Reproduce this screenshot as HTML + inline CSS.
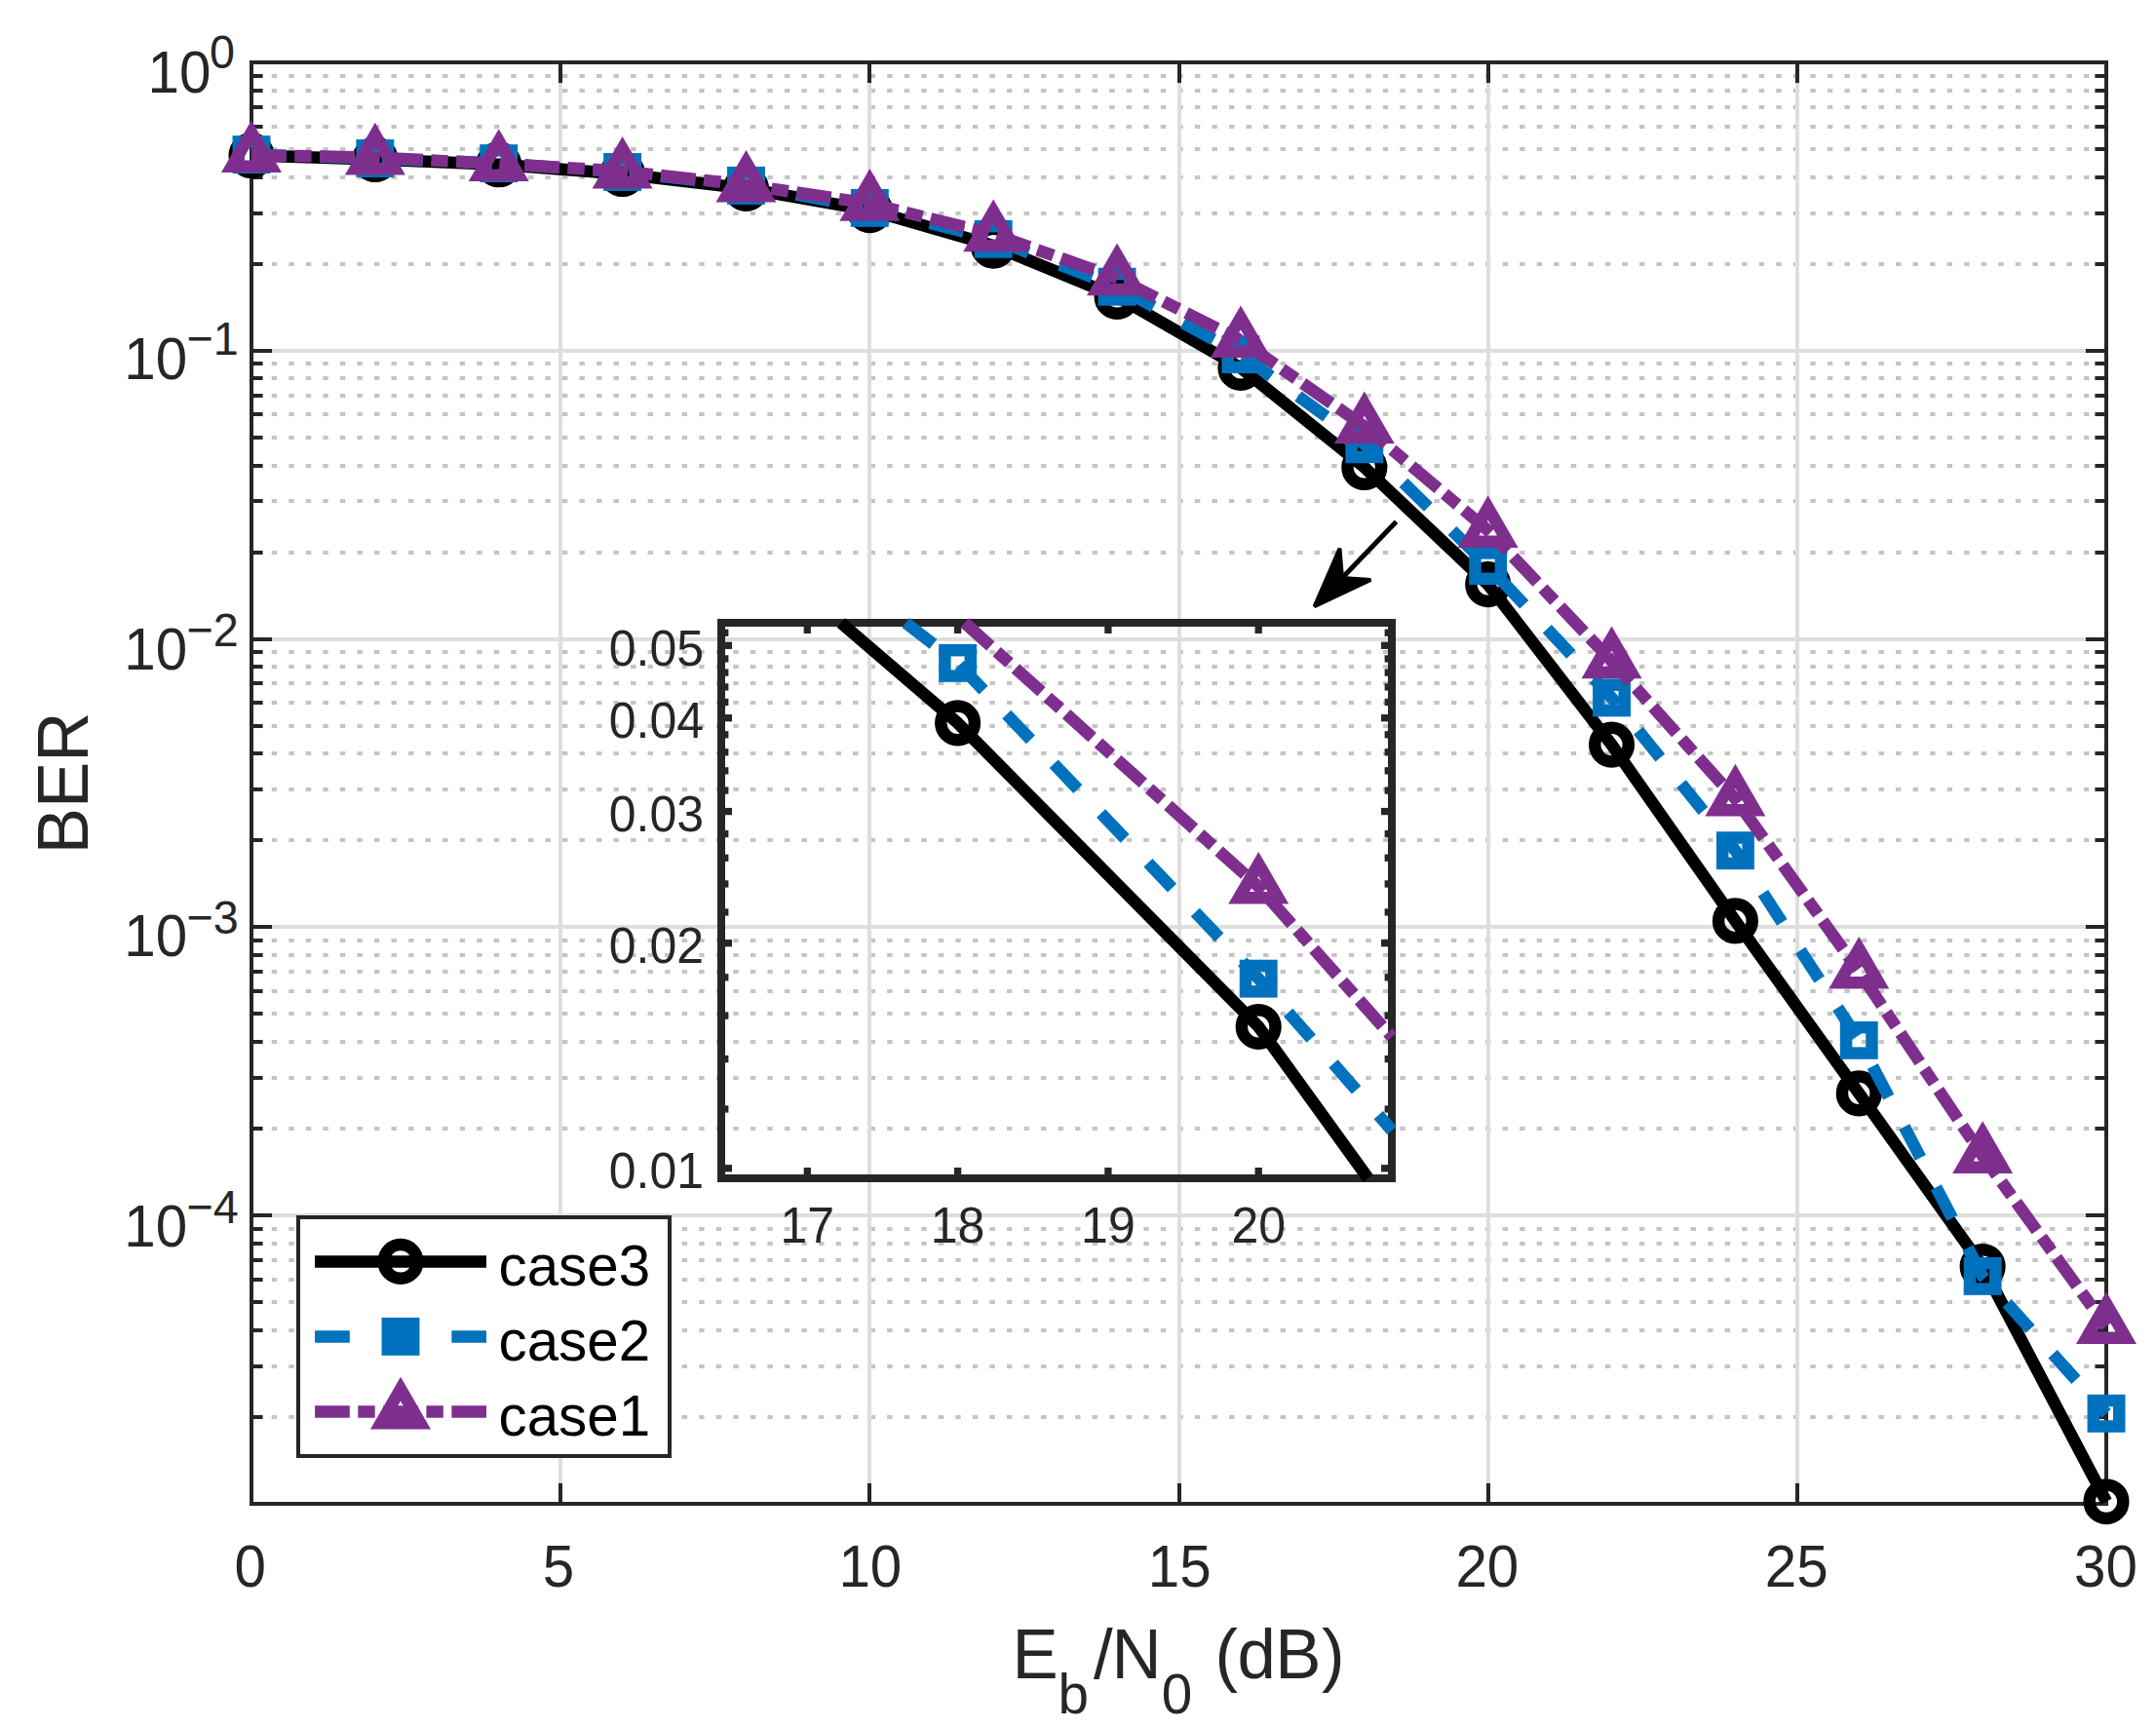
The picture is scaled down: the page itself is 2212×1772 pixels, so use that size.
<!DOCTYPE html>
<html lang="en"><head><meta charset="utf-8"><title>BER vs Eb/N0</title>
<style>html,body{margin:0;padding:0;background:#fff}svg{display:block}text{font-family:"Liberation Sans",sans-serif}</style>
</head><body>
<svg width="2212" height="1772" viewBox="0 0 2212 1772">
<rect width="2212" height="1772" fill="#fff"/>
<g id="grid">
<line x1="258.00" y1="271.00" x2="2161.00" y2="271.00" stroke="#c4c4c4" stroke-width="4" stroke-dasharray="5.4 12.14" stroke-dashoffset="14.34"/>
<line x1="258.00" y1="219.00" x2="2161.00" y2="219.00" stroke="#c4c4c4" stroke-width="4" stroke-dasharray="5.4 12.14" stroke-dashoffset="14.34"/>
<line x1="258.00" y1="182.00" x2="2161.00" y2="182.00" stroke="#c4c4c4" stroke-width="4" stroke-dasharray="5.4 12.14" stroke-dashoffset="14.34"/>
<line x1="258.00" y1="153.00" x2="2161.00" y2="153.00" stroke="#c4c4c4" stroke-width="4" stroke-dasharray="5.4 12.14" stroke-dashoffset="14.34"/>
<line x1="258.00" y1="130.00" x2="2161.00" y2="130.00" stroke="#c4c4c4" stroke-width="4" stroke-dasharray="5.4 12.14" stroke-dashoffset="14.34"/>
<line x1="258.00" y1="110.00" x2="2161.00" y2="110.00" stroke="#c4c4c4" stroke-width="4" stroke-dasharray="5.4 12.14" stroke-dashoffset="14.34"/>
<line x1="258.00" y1="93.00" x2="2161.00" y2="93.00" stroke="#c4c4c4" stroke-width="4" stroke-dasharray="5.4 12.14" stroke-dashoffset="14.34"/>
<line x1="258.00" y1="78.00" x2="2161.00" y2="78.00" stroke="#c4c4c4" stroke-width="4" stroke-dasharray="5.4 12.14" stroke-dashoffset="14.34"/>
<line x1="258.00" y1="567.00" x2="2161.00" y2="567.00" stroke="#c4c4c4" stroke-width="4" stroke-dasharray="5.4 12.14" stroke-dashoffset="14.34"/>
<line x1="258.00" y1="514.00" x2="2161.00" y2="514.00" stroke="#c4c4c4" stroke-width="4" stroke-dasharray="5.4 12.14" stroke-dashoffset="14.34"/>
<line x1="258.00" y1="478.00" x2="2161.00" y2="478.00" stroke="#c4c4c4" stroke-width="4" stroke-dasharray="5.4 12.14" stroke-dashoffset="14.34"/>
<line x1="258.00" y1="449.00" x2="2161.00" y2="449.00" stroke="#c4c4c4" stroke-width="4" stroke-dasharray="5.4 12.14" stroke-dashoffset="14.34"/>
<line x1="258.00" y1="425.00" x2="2161.00" y2="425.00" stroke="#c4c4c4" stroke-width="4" stroke-dasharray="5.4 12.14" stroke-dashoffset="14.34"/>
<line x1="258.00" y1="406.00" x2="2161.00" y2="406.00" stroke="#c4c4c4" stroke-width="4" stroke-dasharray="5.4 12.14" stroke-dashoffset="14.34"/>
<line x1="258.00" y1="388.00" x2="2161.00" y2="388.00" stroke="#c4c4c4" stroke-width="4" stroke-dasharray="5.4 12.14" stroke-dashoffset="14.34"/>
<line x1="258.00" y1="373.00" x2="2161.00" y2="373.00" stroke="#c4c4c4" stroke-width="4" stroke-dasharray="5.4 12.14" stroke-dashoffset="14.34"/>
<line x1="258.00" y1="862.00" x2="2161.00" y2="862.00" stroke="#c4c4c4" stroke-width="4" stroke-dasharray="5.4 12.14" stroke-dashoffset="14.34"/>
<line x1="258.00" y1="810.00" x2="2161.00" y2="810.00" stroke="#c4c4c4" stroke-width="4" stroke-dasharray="5.4 12.14" stroke-dashoffset="14.34"/>
<line x1="258.00" y1="773.00" x2="2161.00" y2="773.00" stroke="#c4c4c4" stroke-width="4" stroke-dasharray="5.4 12.14" stroke-dashoffset="14.34"/>
<line x1="258.00" y1="745.00" x2="2161.00" y2="745.00" stroke="#c4c4c4" stroke-width="4" stroke-dasharray="5.4 12.14" stroke-dashoffset="14.34"/>
<line x1="258.00" y1="721.00" x2="2161.00" y2="721.00" stroke="#c4c4c4" stroke-width="4" stroke-dasharray="5.4 12.14" stroke-dashoffset="14.34"/>
<line x1="258.00" y1="701.00" x2="2161.00" y2="701.00" stroke="#c4c4c4" stroke-width="4" stroke-dasharray="5.4 12.14" stroke-dashoffset="14.34"/>
<line x1="258.00" y1="684.00" x2="2161.00" y2="684.00" stroke="#c4c4c4" stroke-width="4" stroke-dasharray="5.4 12.14" stroke-dashoffset="14.34"/>
<line x1="258.00" y1="669.00" x2="2161.00" y2="669.00" stroke="#c4c4c4" stroke-width="4" stroke-dasharray="5.4 12.14" stroke-dashoffset="14.34"/>
<line x1="258.00" y1="1158.00" x2="2161.00" y2="1158.00" stroke="#c4c4c4" stroke-width="4" stroke-dasharray="5.4 12.14" stroke-dashoffset="14.34"/>
<line x1="258.00" y1="1106.00" x2="2161.00" y2="1106.00" stroke="#c4c4c4" stroke-width="4" stroke-dasharray="5.4 12.14" stroke-dashoffset="14.34"/>
<line x1="258.00" y1="1069.00" x2="2161.00" y2="1069.00" stroke="#c4c4c4" stroke-width="4" stroke-dasharray="5.4 12.14" stroke-dashoffset="14.34"/>
<line x1="258.00" y1="1040.00" x2="2161.00" y2="1040.00" stroke="#c4c4c4" stroke-width="4" stroke-dasharray="5.4 12.14" stroke-dashoffset="14.34"/>
<line x1="258.00" y1="1017.00" x2="2161.00" y2="1017.00" stroke="#c4c4c4" stroke-width="4" stroke-dasharray="5.4 12.14" stroke-dashoffset="14.34"/>
<line x1="258.00" y1="997.00" x2="2161.00" y2="997.00" stroke="#c4c4c4" stroke-width="4" stroke-dasharray="5.4 12.14" stroke-dashoffset="14.34"/>
<line x1="258.00" y1="980.00" x2="2161.00" y2="980.00" stroke="#c4c4c4" stroke-width="4" stroke-dasharray="5.4 12.14" stroke-dashoffset="14.34"/>
<line x1="258.00" y1="965.00" x2="2161.00" y2="965.00" stroke="#c4c4c4" stroke-width="4" stroke-dasharray="5.4 12.14" stroke-dashoffset="14.34"/>
<line x1="258.00" y1="1454.00" x2="2161.00" y2="1454.00" stroke="#c4c4c4" stroke-width="4" stroke-dasharray="5.4 12.14" stroke-dashoffset="14.34"/>
<line x1="258.00" y1="1402.00" x2="2161.00" y2="1402.00" stroke="#c4c4c4" stroke-width="4" stroke-dasharray="5.4 12.14" stroke-dashoffset="14.34"/>
<line x1="258.00" y1="1365.00" x2="2161.00" y2="1365.00" stroke="#c4c4c4" stroke-width="4" stroke-dasharray="5.4 12.14" stroke-dashoffset="14.34"/>
<line x1="258.00" y1="1336.00" x2="2161.00" y2="1336.00" stroke="#c4c4c4" stroke-width="4" stroke-dasharray="5.4 12.14" stroke-dashoffset="14.34"/>
<line x1="258.00" y1="1313.00" x2="2161.00" y2="1313.00" stroke="#c4c4c4" stroke-width="4" stroke-dasharray="5.4 12.14" stroke-dashoffset="14.34"/>
<line x1="258.00" y1="1293.00" x2="2161.00" y2="1293.00" stroke="#c4c4c4" stroke-width="4" stroke-dasharray="5.4 12.14" stroke-dashoffset="14.34"/>
<line x1="258.00" y1="1276.00" x2="2161.00" y2="1276.00" stroke="#c4c4c4" stroke-width="4" stroke-dasharray="5.4 12.14" stroke-dashoffset="14.34"/>
<line x1="258.00" y1="1261.00" x2="2161.00" y2="1261.00" stroke="#c4c4c4" stroke-width="4" stroke-dasharray="5.4 12.14" stroke-dashoffset="14.34"/>
<line x1="258.00" y1="360.00" x2="2161.00" y2="360.00" stroke="#dedede" stroke-width="4" />
<line x1="258.00" y1="656.00" x2="2161.00" y2="656.00" stroke="#dedede" stroke-width="4" />
<line x1="258.00" y1="951.00" x2="2161.00" y2="951.00" stroke="#dedede" stroke-width="4" />
<line x1="258.00" y1="1247.00" x2="2161.00" y2="1247.00" stroke="#dedede" stroke-width="4" />
<line x1="575.00" y1="64.00" x2="575.00" y2="1543.00" stroke="#dedede" stroke-width="4" />
<line x1="892.00" y1="64.00" x2="892.00" y2="1543.00" stroke="#dedede" stroke-width="4" />
<line x1="1210.00" y1="64.00" x2="1210.00" y2="1543.00" stroke="#dedede" stroke-width="4" />
<line x1="1527.00" y1="64.00" x2="1527.00" y2="1543.00" stroke="#dedede" stroke-width="4" />
<line x1="1844.00" y1="64.00" x2="1844.00" y2="1543.00" stroke="#dedede" stroke-width="4" />
</g>
<g id="axes">
<line x1="575.00" y1="1543.00" x2="575.00" y2="1521.90" stroke="#262626" stroke-width="4" />
<line x1="575.00" y1="64.00" x2="575.00" y2="85.10" stroke="#262626" stroke-width="4" />
<line x1="892.00" y1="1543.00" x2="892.00" y2="1521.90" stroke="#262626" stroke-width="4" />
<line x1="892.00" y1="64.00" x2="892.00" y2="85.10" stroke="#262626" stroke-width="4" />
<line x1="1210.00" y1="1543.00" x2="1210.00" y2="1521.90" stroke="#262626" stroke-width="4" />
<line x1="1210.00" y1="64.00" x2="1210.00" y2="85.10" stroke="#262626" stroke-width="4" />
<line x1="1527.00" y1="1543.00" x2="1527.00" y2="1521.90" stroke="#262626" stroke-width="4" />
<line x1="1527.00" y1="64.00" x2="1527.00" y2="85.10" stroke="#262626" stroke-width="4" />
<line x1="1844.00" y1="1543.00" x2="1844.00" y2="1521.90" stroke="#262626" stroke-width="4" />
<line x1="1844.00" y1="64.00" x2="1844.00" y2="85.10" stroke="#262626" stroke-width="4" />
<line x1="258.00" y1="360.00" x2="279.10" y2="360.00" stroke="#262626" stroke-width="4" />
<line x1="2161.00" y1="360.00" x2="2139.90" y2="360.00" stroke="#262626" stroke-width="4" />
<line x1="258.00" y1="271.00" x2="269.60" y2="271.00" stroke="#262626" stroke-width="4" />
<line x1="2161.00" y1="271.00" x2="2149.40" y2="271.00" stroke="#262626" stroke-width="4" />
<line x1="258.00" y1="219.00" x2="269.60" y2="219.00" stroke="#262626" stroke-width="4" />
<line x1="2161.00" y1="219.00" x2="2149.40" y2="219.00" stroke="#262626" stroke-width="4" />
<line x1="258.00" y1="182.00" x2="269.60" y2="182.00" stroke="#262626" stroke-width="4" />
<line x1="2161.00" y1="182.00" x2="2149.40" y2="182.00" stroke="#262626" stroke-width="4" />
<line x1="258.00" y1="153.00" x2="269.60" y2="153.00" stroke="#262626" stroke-width="4" />
<line x1="2161.00" y1="153.00" x2="2149.40" y2="153.00" stroke="#262626" stroke-width="4" />
<line x1="258.00" y1="130.00" x2="269.60" y2="130.00" stroke="#262626" stroke-width="4" />
<line x1="2161.00" y1="130.00" x2="2149.40" y2="130.00" stroke="#262626" stroke-width="4" />
<line x1="258.00" y1="110.00" x2="269.60" y2="110.00" stroke="#262626" stroke-width="4" />
<line x1="2161.00" y1="110.00" x2="2149.40" y2="110.00" stroke="#262626" stroke-width="4" />
<line x1="258.00" y1="93.00" x2="269.60" y2="93.00" stroke="#262626" stroke-width="4" />
<line x1="2161.00" y1="93.00" x2="2149.40" y2="93.00" stroke="#262626" stroke-width="4" />
<line x1="258.00" y1="78.00" x2="269.60" y2="78.00" stroke="#262626" stroke-width="4" />
<line x1="2161.00" y1="78.00" x2="2149.40" y2="78.00" stroke="#262626" stroke-width="4" />
<line x1="258.00" y1="656.00" x2="279.10" y2="656.00" stroke="#262626" stroke-width="4" />
<line x1="2161.00" y1="656.00" x2="2139.90" y2="656.00" stroke="#262626" stroke-width="4" />
<line x1="258.00" y1="567.00" x2="269.60" y2="567.00" stroke="#262626" stroke-width="4" />
<line x1="2161.00" y1="567.00" x2="2149.40" y2="567.00" stroke="#262626" stroke-width="4" />
<line x1="258.00" y1="514.00" x2="269.60" y2="514.00" stroke="#262626" stroke-width="4" />
<line x1="2161.00" y1="514.00" x2="2149.40" y2="514.00" stroke="#262626" stroke-width="4" />
<line x1="258.00" y1="478.00" x2="269.60" y2="478.00" stroke="#262626" stroke-width="4" />
<line x1="2161.00" y1="478.00" x2="2149.40" y2="478.00" stroke="#262626" stroke-width="4" />
<line x1="258.00" y1="449.00" x2="269.60" y2="449.00" stroke="#262626" stroke-width="4" />
<line x1="2161.00" y1="449.00" x2="2149.40" y2="449.00" stroke="#262626" stroke-width="4" />
<line x1="258.00" y1="425.00" x2="269.60" y2="425.00" stroke="#262626" stroke-width="4" />
<line x1="2161.00" y1="425.00" x2="2149.40" y2="425.00" stroke="#262626" stroke-width="4" />
<line x1="258.00" y1="406.00" x2="269.60" y2="406.00" stroke="#262626" stroke-width="4" />
<line x1="2161.00" y1="406.00" x2="2149.40" y2="406.00" stroke="#262626" stroke-width="4" />
<line x1="258.00" y1="388.00" x2="269.60" y2="388.00" stroke="#262626" stroke-width="4" />
<line x1="2161.00" y1="388.00" x2="2149.40" y2="388.00" stroke="#262626" stroke-width="4" />
<line x1="258.00" y1="373.00" x2="269.60" y2="373.00" stroke="#262626" stroke-width="4" />
<line x1="2161.00" y1="373.00" x2="2149.40" y2="373.00" stroke="#262626" stroke-width="4" />
<line x1="258.00" y1="951.00" x2="279.10" y2="951.00" stroke="#262626" stroke-width="4" />
<line x1="2161.00" y1="951.00" x2="2139.90" y2="951.00" stroke="#262626" stroke-width="4" />
<line x1="258.00" y1="862.00" x2="269.60" y2="862.00" stroke="#262626" stroke-width="4" />
<line x1="2161.00" y1="862.00" x2="2149.40" y2="862.00" stroke="#262626" stroke-width="4" />
<line x1="258.00" y1="810.00" x2="269.60" y2="810.00" stroke="#262626" stroke-width="4" />
<line x1="2161.00" y1="810.00" x2="2149.40" y2="810.00" stroke="#262626" stroke-width="4" />
<line x1="258.00" y1="773.00" x2="269.60" y2="773.00" stroke="#262626" stroke-width="4" />
<line x1="2161.00" y1="773.00" x2="2149.40" y2="773.00" stroke="#262626" stroke-width="4" />
<line x1="258.00" y1="745.00" x2="269.60" y2="745.00" stroke="#262626" stroke-width="4" />
<line x1="2161.00" y1="745.00" x2="2149.40" y2="745.00" stroke="#262626" stroke-width="4" />
<line x1="258.00" y1="721.00" x2="269.60" y2="721.00" stroke="#262626" stroke-width="4" />
<line x1="2161.00" y1="721.00" x2="2149.40" y2="721.00" stroke="#262626" stroke-width="4" />
<line x1="258.00" y1="701.00" x2="269.60" y2="701.00" stroke="#262626" stroke-width="4" />
<line x1="2161.00" y1="701.00" x2="2149.40" y2="701.00" stroke="#262626" stroke-width="4" />
<line x1="258.00" y1="684.00" x2="269.60" y2="684.00" stroke="#262626" stroke-width="4" />
<line x1="2161.00" y1="684.00" x2="2149.40" y2="684.00" stroke="#262626" stroke-width="4" />
<line x1="258.00" y1="669.00" x2="269.60" y2="669.00" stroke="#262626" stroke-width="4" />
<line x1="2161.00" y1="669.00" x2="2149.40" y2="669.00" stroke="#262626" stroke-width="4" />
<line x1="258.00" y1="1247.00" x2="279.10" y2="1247.00" stroke="#262626" stroke-width="4" />
<line x1="2161.00" y1="1247.00" x2="2139.90" y2="1247.00" stroke="#262626" stroke-width="4" />
<line x1="258.00" y1="1158.00" x2="269.60" y2="1158.00" stroke="#262626" stroke-width="4" />
<line x1="2161.00" y1="1158.00" x2="2149.40" y2="1158.00" stroke="#262626" stroke-width="4" />
<line x1="258.00" y1="1106.00" x2="269.60" y2="1106.00" stroke="#262626" stroke-width="4" />
<line x1="2161.00" y1="1106.00" x2="2149.40" y2="1106.00" stroke="#262626" stroke-width="4" />
<line x1="258.00" y1="1069.00" x2="269.60" y2="1069.00" stroke="#262626" stroke-width="4" />
<line x1="2161.00" y1="1069.00" x2="2149.40" y2="1069.00" stroke="#262626" stroke-width="4" />
<line x1="258.00" y1="1040.00" x2="269.60" y2="1040.00" stroke="#262626" stroke-width="4" />
<line x1="2161.00" y1="1040.00" x2="2149.40" y2="1040.00" stroke="#262626" stroke-width="4" />
<line x1="258.00" y1="1017.00" x2="269.60" y2="1017.00" stroke="#262626" stroke-width="4" />
<line x1="2161.00" y1="1017.00" x2="2149.40" y2="1017.00" stroke="#262626" stroke-width="4" />
<line x1="258.00" y1="997.00" x2="269.60" y2="997.00" stroke="#262626" stroke-width="4" />
<line x1="2161.00" y1="997.00" x2="2149.40" y2="997.00" stroke="#262626" stroke-width="4" />
<line x1="258.00" y1="980.00" x2="269.60" y2="980.00" stroke="#262626" stroke-width="4" />
<line x1="2161.00" y1="980.00" x2="2149.40" y2="980.00" stroke="#262626" stroke-width="4" />
<line x1="258.00" y1="965.00" x2="269.60" y2="965.00" stroke="#262626" stroke-width="4" />
<line x1="2161.00" y1="965.00" x2="2149.40" y2="965.00" stroke="#262626" stroke-width="4" />
<line x1="258.00" y1="1454.00" x2="269.60" y2="1454.00" stroke="#262626" stroke-width="4" />
<line x1="2161.00" y1="1454.00" x2="2149.40" y2="1454.00" stroke="#262626" stroke-width="4" />
<line x1="258.00" y1="1402.00" x2="269.60" y2="1402.00" stroke="#262626" stroke-width="4" />
<line x1="2161.00" y1="1402.00" x2="2149.40" y2="1402.00" stroke="#262626" stroke-width="4" />
<line x1="258.00" y1="1365.00" x2="269.60" y2="1365.00" stroke="#262626" stroke-width="4" />
<line x1="2161.00" y1="1365.00" x2="2149.40" y2="1365.00" stroke="#262626" stroke-width="4" />
<line x1="258.00" y1="1336.00" x2="269.60" y2="1336.00" stroke="#262626" stroke-width="4" />
<line x1="2161.00" y1="1336.00" x2="2149.40" y2="1336.00" stroke="#262626" stroke-width="4" />
<line x1="258.00" y1="1313.00" x2="269.60" y2="1313.00" stroke="#262626" stroke-width="4" />
<line x1="2161.00" y1="1313.00" x2="2149.40" y2="1313.00" stroke="#262626" stroke-width="4" />
<line x1="258.00" y1="1293.00" x2="269.60" y2="1293.00" stroke="#262626" stroke-width="4" />
<line x1="2161.00" y1="1293.00" x2="2149.40" y2="1293.00" stroke="#262626" stroke-width="4" />
<line x1="258.00" y1="1276.00" x2="269.60" y2="1276.00" stroke="#262626" stroke-width="4" />
<line x1="2161.00" y1="1276.00" x2="2149.40" y2="1276.00" stroke="#262626" stroke-width="4" />
<line x1="258.00" y1="1261.00" x2="269.60" y2="1261.00" stroke="#262626" stroke-width="4" />
<line x1="2161.00" y1="1261.00" x2="2149.40" y2="1261.00" stroke="#262626" stroke-width="4" />
<rect x="258.0" y="64.0" width="1903.0" height="1479.0" fill="none" stroke="#262626" stroke-width="4"/>
</g>
<g id="case3">
<polyline points="258.00,159.50 384.87,163.50 511.73,168.80 638.60,178.50 765.47,193.40 892.33,215.60 1019.20,252.10 1146.07,304.40 1272.93,377.40 1399.80,479.50 1526.67,599.60 1653.53,764.10 1780.40,944.90 1907.27,1121.90 2034.13,1299.50 2161.00,1540.70" fill="none" stroke="#000000" stroke-width="12.5" stroke-linejoin="round" />
<circle cx="258.00" cy="159.50" r="17.3" fill="none" stroke="#000000" stroke-width="12.5"/>
<circle cx="384.87" cy="163.50" r="17.3" fill="none" stroke="#000000" stroke-width="12.5"/>
<circle cx="511.73" cy="168.80" r="17.3" fill="none" stroke="#000000" stroke-width="12.5"/>
<circle cx="638.60" cy="178.50" r="17.3" fill="none" stroke="#000000" stroke-width="12.5"/>
<circle cx="765.47" cy="193.40" r="17.3" fill="none" stroke="#000000" stroke-width="12.5"/>
<circle cx="892.33" cy="215.60" r="17.3" fill="none" stroke="#000000" stroke-width="12.5"/>
<circle cx="1019.20" cy="252.10" r="17.3" fill="none" stroke="#000000" stroke-width="12.5"/>
<circle cx="1146.07" cy="304.40" r="17.3" fill="none" stroke="#000000" stroke-width="12.5"/>
<circle cx="1272.93" cy="377.40" r="17.3" fill="none" stroke="#000000" stroke-width="12.5"/>
<circle cx="1399.80" cy="479.50" r="17.3" fill="none" stroke="#000000" stroke-width="12.5"/>
<circle cx="1526.67" cy="599.60" r="17.3" fill="none" stroke="#000000" stroke-width="12.5"/>
<circle cx="1653.53" cy="764.10" r="17.3" fill="none" stroke="#000000" stroke-width="12.5"/>
<circle cx="1780.40" cy="944.90" r="17.3" fill="none" stroke="#000000" stroke-width="12.5"/>
<circle cx="1907.27" cy="1121.90" r="17.3" fill="none" stroke="#000000" stroke-width="12.5"/>
<circle cx="2034.13" cy="1299.50" r="17.3" fill="none" stroke="#000000" stroke-width="12.5"/>
<circle cx="2161.00" cy="1540.70" r="17.3" fill="none" stroke="#000000" stroke-width="12.5"/>
</g>
<g id="case2">
<polyline points="258.00,158.60 384.87,162.50 511.73,167.60 638.60,176.50 765.47,190.40 892.33,213.40 1019.20,245.30 1146.07,294.20 1272.93,363.60 1399.80,455.80 1526.67,580.60 1653.53,715.90 1780.40,872.70 1907.27,1067.40 2034.13,1309.40 2161.00,1450.30" fill="none" stroke="#0072bd" stroke-width="12.5" stroke-linejoin="round" stroke-dasharray="35.7 34.42"/>
<rect x="244.80" y="145.40" width="26.4" height="26.4" fill="none" stroke="#0072bd" stroke-width="12.5" stroke-linejoin="miter"/>
<rect x="371.67" y="149.30" width="26.4" height="26.4" fill="none" stroke="#0072bd" stroke-width="12.5" stroke-linejoin="miter"/>
<rect x="498.53" y="154.40" width="26.4" height="26.4" fill="none" stroke="#0072bd" stroke-width="12.5" stroke-linejoin="miter"/>
<rect x="625.40" y="163.30" width="26.4" height="26.4" fill="none" stroke="#0072bd" stroke-width="12.5" stroke-linejoin="miter"/>
<rect x="752.27" y="177.20" width="26.4" height="26.4" fill="none" stroke="#0072bd" stroke-width="12.5" stroke-linejoin="miter"/>
<rect x="879.13" y="200.20" width="26.4" height="26.4" fill="none" stroke="#0072bd" stroke-width="12.5" stroke-linejoin="miter"/>
<rect x="1006.00" y="232.10" width="26.4" height="26.4" fill="none" stroke="#0072bd" stroke-width="12.5" stroke-linejoin="miter"/>
<rect x="1132.87" y="281.00" width="26.4" height="26.4" fill="none" stroke="#0072bd" stroke-width="12.5" stroke-linejoin="miter"/>
<rect x="1259.73" y="350.40" width="26.4" height="26.4" fill="none" stroke="#0072bd" stroke-width="12.5" stroke-linejoin="miter"/>
<rect x="1386.60" y="442.60" width="26.4" height="26.4" fill="none" stroke="#0072bd" stroke-width="12.5" stroke-linejoin="miter"/>
<rect x="1513.47" y="567.40" width="26.4" height="26.4" fill="none" stroke="#0072bd" stroke-width="12.5" stroke-linejoin="miter"/>
<rect x="1640.33" y="702.70" width="26.4" height="26.4" fill="none" stroke="#0072bd" stroke-width="12.5" stroke-linejoin="miter"/>
<rect x="1767.20" y="859.50" width="26.4" height="26.4" fill="none" stroke="#0072bd" stroke-width="12.5" stroke-linejoin="miter"/>
<rect x="1894.07" y="1054.20" width="26.4" height="26.4" fill="none" stroke="#0072bd" stroke-width="12.5" stroke-linejoin="miter"/>
<rect x="2020.93" y="1296.20" width="26.4" height="26.4" fill="none" stroke="#0072bd" stroke-width="12.5" stroke-linejoin="miter"/>
<rect x="2147.80" y="1437.10" width="26.4" height="26.4" fill="none" stroke="#0072bd" stroke-width="12.5" stroke-linejoin="miter"/>
</g>
<g id="case1">
<polyline points="258.00,159.20 384.87,161.60 511.73,168.00 638.60,175.70 765.47,189.70 892.33,208.80 1019.20,240.30 1146.07,285.30 1272.93,349.20 1399.80,437.40 1526.67,544.20 1653.53,678.30 1780.40,819.60 1907.27,996.70 2034.13,1186.00 2161.00,1361.00" fill="none" stroke="#7e2f8e" stroke-width="12.5" stroke-linejoin="round" stroke-dasharray="35.7 8.5 17.42 8.5"/>
<polygon points="258.00,135.90 278.18,170.85 237.82,170.85" fill="none" stroke="#7e2f8e" stroke-width="12.5" stroke-linejoin="miter" stroke-miterlimit="10"/>
<polygon points="384.87,138.30 405.05,173.25 364.69,173.25" fill="none" stroke="#7e2f8e" stroke-width="12.5" stroke-linejoin="miter" stroke-miterlimit="10"/>
<polygon points="511.73,144.70 531.91,179.65 491.55,179.65" fill="none" stroke="#7e2f8e" stroke-width="12.5" stroke-linejoin="miter" stroke-miterlimit="10"/>
<polygon points="638.60,152.40 658.78,187.35 618.42,187.35" fill="none" stroke="#7e2f8e" stroke-width="12.5" stroke-linejoin="miter" stroke-miterlimit="10"/>
<polygon points="765.47,166.40 785.65,201.35 745.29,201.35" fill="none" stroke="#7e2f8e" stroke-width="12.5" stroke-linejoin="miter" stroke-miterlimit="10"/>
<polygon points="892.33,185.50 912.51,220.45 872.15,220.45" fill="none" stroke="#7e2f8e" stroke-width="12.5" stroke-linejoin="miter" stroke-miterlimit="10"/>
<polygon points="1019.20,217.00 1039.38,251.95 999.02,251.95" fill="none" stroke="#7e2f8e" stroke-width="12.5" stroke-linejoin="miter" stroke-miterlimit="10"/>
<polygon points="1146.07,262.00 1166.25,296.95 1125.89,296.95" fill="none" stroke="#7e2f8e" stroke-width="12.5" stroke-linejoin="miter" stroke-miterlimit="10"/>
<polygon points="1272.93,325.90 1293.11,360.85 1252.75,360.85" fill="none" stroke="#7e2f8e" stroke-width="12.5" stroke-linejoin="miter" stroke-miterlimit="10"/>
<polygon points="1399.80,414.10 1419.98,449.05 1379.62,449.05" fill="none" stroke="#7e2f8e" stroke-width="12.5" stroke-linejoin="miter" stroke-miterlimit="10"/>
<polygon points="1526.67,520.90 1546.85,555.85 1506.49,555.85" fill="none" stroke="#7e2f8e" stroke-width="12.5" stroke-linejoin="miter" stroke-miterlimit="10"/>
<polygon points="1653.53,655.00 1673.71,689.95 1633.35,689.95" fill="none" stroke="#7e2f8e" stroke-width="12.5" stroke-linejoin="miter" stroke-miterlimit="10"/>
<polygon points="1780.40,796.30 1800.58,831.25 1760.22,831.25" fill="none" stroke="#7e2f8e" stroke-width="12.5" stroke-linejoin="miter" stroke-miterlimit="10"/>
<polygon points="1907.27,973.40 1927.45,1008.35 1887.09,1008.35" fill="none" stroke="#7e2f8e" stroke-width="12.5" stroke-linejoin="miter" stroke-miterlimit="10"/>
<polygon points="2034.13,1162.70 2054.31,1197.65 2013.95,1197.65" fill="none" stroke="#7e2f8e" stroke-width="12.5" stroke-linejoin="miter" stroke-miterlimit="10"/>
<polygon points="2161.00,1337.70 2181.18,1372.65 2140.82,1372.65" fill="none" stroke="#7e2f8e" stroke-width="12.5" stroke-linejoin="miter" stroke-miterlimit="10"/>
</g>
<g id="legend">
<rect x="306.0" y="1249.0" width="381.0" height="245.0" fill="#fff" stroke="#262626" stroke-width="4"/>
<line x1="323.10" y1="1294.40" x2="499.00" y2="1294.40" stroke="#000000" stroke-width="12.5" />
<circle cx="411.00" cy="1294.40" r="17.3" fill="none" stroke="#000000" stroke-width="12.5"/>
<text x="511.50" y="1319.20" font-size="58.33" text-anchor="start" fill="#000" >case3</text>
<line x1="323.10" y1="1371.40" x2="499.00" y2="1371.40" stroke="#0072bd" stroke-width="12.5" stroke-dasharray="35.7 34.42"/>
<rect x="397.80" y="1358.20" width="26.4" height="26.4" fill="none" stroke="#0072bd" stroke-width="12.5" stroke-linejoin="miter"/>
<rect x="397.80" y="1358.20" width="26.4" height="26.4" fill="#0072bd"/>
<text x="511.50" y="1396.20" font-size="58.33" text-anchor="start" fill="#000" >case2</text>
<line x1="323.10" y1="1448.50" x2="499.00" y2="1448.50" stroke="#7e2f8e" stroke-width="12.5" stroke-dasharray="35.7 8.5 17.42 8.5"/>
<polygon points="411.00,1425.20 431.18,1460.15 390.82,1460.15" fill="none" stroke="#7e2f8e" stroke-width="12.5" stroke-linejoin="miter" stroke-miterlimit="10"/>
<text x="511.50" y="1473.30" font-size="58.33" text-anchor="start" fill="#000" >case1</text>
</g>
<g id="inset">
<line x1="828.30" y1="1209.00" x2="828.30" y2="1198.00" stroke="#262626" stroke-width="7.3" />
<line x1="828.30" y1="639.00" x2="828.30" y2="650.00" stroke="#262626" stroke-width="7.3" />
<line x1="982.60" y1="1209.00" x2="982.60" y2="1198.00" stroke="#262626" stroke-width="7.3" />
<line x1="982.60" y1="639.00" x2="982.60" y2="650.00" stroke="#262626" stroke-width="7.3" />
<line x1="1136.90" y1="1209.00" x2="1136.90" y2="1198.00" stroke="#262626" stroke-width="7.3" />
<line x1="1136.90" y1="639.00" x2="1136.90" y2="650.00" stroke="#262626" stroke-width="7.3" />
<line x1="1291.20" y1="1209.00" x2="1291.20" y2="1198.00" stroke="#262626" stroke-width="7.3" />
<line x1="1291.20" y1="639.00" x2="1291.20" y2="650.00" stroke="#262626" stroke-width="7.3" />
<line x1="740.00" y1="1198.76" x2="751.00" y2="1198.76" stroke="#262626" stroke-width="7.3" />
<line x1="1428.00" y1="1198.76" x2="1417.00" y2="1198.76" stroke="#262626" stroke-width="7.3" />
<line x1="740.00" y1="1137.99" x2="747.40" y2="1137.99" stroke="#262626" stroke-width="7.3" />
<line x1="1428.00" y1="1137.99" x2="1420.60" y2="1137.99" stroke="#262626" stroke-width="7.3" />
<line x1="740.00" y1="1086.61" x2="747.40" y2="1086.61" stroke="#262626" stroke-width="7.3" />
<line x1="1428.00" y1="1086.61" x2="1420.60" y2="1086.61" stroke="#262626" stroke-width="7.3" />
<line x1="740.00" y1="1042.10" x2="747.40" y2="1042.10" stroke="#262626" stroke-width="7.3" />
<line x1="1428.00" y1="1042.10" x2="1420.60" y2="1042.10" stroke="#262626" stroke-width="7.3" />
<line x1="740.00" y1="1002.84" x2="747.40" y2="1002.84" stroke="#262626" stroke-width="7.3" />
<line x1="1428.00" y1="1002.84" x2="1420.60" y2="1002.84" stroke="#262626" stroke-width="7.3" />
<line x1="740.00" y1="967.72" x2="751.00" y2="967.72" stroke="#262626" stroke-width="7.3" />
<line x1="1428.00" y1="967.72" x2="1417.00" y2="967.72" stroke="#262626" stroke-width="7.3" />
<line x1="740.00" y1="935.95" x2="747.40" y2="935.95" stroke="#262626" stroke-width="7.3" />
<line x1="1428.00" y1="935.95" x2="1420.60" y2="935.95" stroke="#262626" stroke-width="7.3" />
<line x1="740.00" y1="906.95" x2="747.40" y2="906.95" stroke="#262626" stroke-width="7.3" />
<line x1="1428.00" y1="906.95" x2="1420.60" y2="906.95" stroke="#262626" stroke-width="7.3" />
<line x1="740.00" y1="880.27" x2="747.40" y2="880.27" stroke="#262626" stroke-width="7.3" />
<line x1="1428.00" y1="880.27" x2="1420.60" y2="880.27" stroke="#262626" stroke-width="7.3" />
<line x1="740.00" y1="855.57" x2="747.40" y2="855.57" stroke="#262626" stroke-width="7.3" />
<line x1="1428.00" y1="855.57" x2="1420.60" y2="855.57" stroke="#262626" stroke-width="7.3" />
<line x1="740.00" y1="832.57" x2="751.00" y2="832.57" stroke="#262626" stroke-width="7.3" />
<line x1="1428.00" y1="832.57" x2="1417.00" y2="832.57" stroke="#262626" stroke-width="7.3" />
<line x1="740.00" y1="811.06" x2="747.40" y2="811.06" stroke="#262626" stroke-width="7.3" />
<line x1="1428.00" y1="811.06" x2="1420.60" y2="811.06" stroke="#262626" stroke-width="7.3" />
<line x1="740.00" y1="790.85" x2="747.40" y2="790.85" stroke="#262626" stroke-width="7.3" />
<line x1="1428.00" y1="790.85" x2="1420.60" y2="790.85" stroke="#262626" stroke-width="7.3" />
<line x1="740.00" y1="771.80" x2="747.40" y2="771.80" stroke="#262626" stroke-width="7.3" />
<line x1="1428.00" y1="771.80" x2="1420.60" y2="771.80" stroke="#262626" stroke-width="7.3" />
<line x1="740.00" y1="753.78" x2="747.40" y2="753.78" stroke="#262626" stroke-width="7.3" />
<line x1="1428.00" y1="753.78" x2="1420.60" y2="753.78" stroke="#262626" stroke-width="7.3" />
<line x1="740.00" y1="736.68" x2="751.00" y2="736.68" stroke="#262626" stroke-width="7.3" />
<line x1="1428.00" y1="736.68" x2="1417.00" y2="736.68" stroke="#262626" stroke-width="7.3" />
<line x1="740.00" y1="720.42" x2="747.40" y2="720.42" stroke="#262626" stroke-width="7.3" />
<line x1="1428.00" y1="720.42" x2="1420.60" y2="720.42" stroke="#262626" stroke-width="7.3" />
<line x1="740.00" y1="704.91" x2="747.40" y2="704.91" stroke="#262626" stroke-width="7.3" />
<line x1="1428.00" y1="704.91" x2="1420.60" y2="704.91" stroke="#262626" stroke-width="7.3" />
<line x1="740.00" y1="690.09" x2="747.40" y2="690.09" stroke="#262626" stroke-width="7.3" />
<line x1="1428.00" y1="690.09" x2="1420.60" y2="690.09" stroke="#262626" stroke-width="7.3" />
<line x1="740.00" y1="675.91" x2="747.40" y2="675.91" stroke="#262626" stroke-width="7.3" />
<line x1="1428.00" y1="675.91" x2="1420.60" y2="675.91" stroke="#262626" stroke-width="7.3" />
<line x1="740.00" y1="662.30" x2="751.00" y2="662.30" stroke="#262626" stroke-width="7.3" />
<line x1="1428.00" y1="662.30" x2="1417.00" y2="662.30" stroke="#262626" stroke-width="7.3" />
<line x1="740.00" y1="649.23" x2="747.40" y2="649.23" stroke="#262626" stroke-width="7.3" />
<line x1="1428.00" y1="649.23" x2="1420.60" y2="649.23" stroke="#262626" stroke-width="7.3" />
<rect x="740.0" y="639.0" width="688.0" height="570.0" fill="none" stroke="#262626" stroke-width="8.0"/>
<polyline points="862.80,639.00 982.60,741.84 1291.20,1053.46 1403.66,1209.00" fill="none" stroke="#000000" stroke-width="12.5" stroke-linejoin="round" />
<circle cx="982.60" cy="741.84" r="17.3" fill="none" stroke="#000000" stroke-width="12.5"/>
<circle cx="1291.20" cy="1053.46" r="17.3" fill="none" stroke="#000000" stroke-width="12.5"/>
<polyline points="929.26,639.00 982.60,680.35 1291.20,1004.16 1428.00,1159.78" fill="none" stroke="#0072bd" stroke-width="12.5" stroke-linejoin="round" stroke-dasharray="35.7 34.42" stroke-dashoffset="0"/>
<rect x="969.40" y="667.15" width="26.4" height="26.4" fill="none" stroke="#0072bd" stroke-width="12.5" stroke-linejoin="miter"/>
<rect x="1278.00" y="990.96" width="26.4" height="26.4" fill="none" stroke="#0072bd" stroke-width="12.5" stroke-linejoin="miter"/>
<polyline points="989.72,639.00 1291.20,909.71 1428.00,1063.96" fill="none" stroke="#7e2f8e" stroke-width="12.5" stroke-linejoin="round" stroke-dasharray="35.7 8.5 17.42 8.5" stroke-dashoffset="0"/>
<polygon points="1291.20,886.41 1311.38,921.36 1271.02,921.36" fill="none" stroke="#7e2f8e" stroke-width="12.5" stroke-linejoin="miter" stroke-miterlimit="10"/>
<text transform="translate(722.00 682.60) scale(1.0 1.04)" font-size="50" text-anchor="end" fill="#262626" >0.05</text>
<text transform="translate(722.00 756.98) scale(1.0 1.04)" font-size="50" text-anchor="end" fill="#262626" >0.04</text>
<text transform="translate(722.00 852.87) scale(1.0 1.04)" font-size="50" text-anchor="end" fill="#262626" >0.03</text>
<text transform="translate(722.00 988.02) scale(1.0 1.04)" font-size="50" text-anchor="end" fill="#262626" >0.02</text>
<text transform="translate(722.00 1219.06) scale(1.0 1.04)" font-size="50" text-anchor="end" fill="#262626" >0.01</text>
<text transform="translate(828.30 1275.30) scale(1.0 1.04)" font-size="50" text-anchor="middle" fill="#262626" >17</text>
<text transform="translate(982.60 1275.30) scale(1.0 1.04)" font-size="50" text-anchor="middle" fill="#262626" >18</text>
<text transform="translate(1136.90 1275.30) scale(1.0 1.04)" font-size="50" text-anchor="middle" fill="#262626" >19</text>
<text transform="translate(1291.20 1275.30) scale(1.0 1.04)" font-size="50" text-anchor="middle" fill="#262626" >20</text>
</g>
<g id="arrow">
<line x1="1432.50" y1="535.30" x2="1377.50" y2="592.40" stroke="#000000" stroke-width="5.0" />
<polygon points="1348.6,622.3 1374.5,562.7 1377.0,592.9 1406.3,594.9" fill="#000" stroke="#000" stroke-width="4" stroke-linejoin="bevel"/>
</g>
<g id="labels">
<text transform="translate(256.60 1627.60) scale(1.0 1.04)" font-size="58.33" text-anchor="middle" fill="#262626" >0</text>
<text transform="translate(572.87 1627.60) scale(1.0 1.04)" font-size="58.33" text-anchor="middle" fill="#262626" >5</text>
<text transform="translate(892.83 1627.60) scale(1.0 1.04)" font-size="58.33" text-anchor="middle" fill="#262626" >10</text>
<text transform="translate(1210.30 1627.60) scale(1.0 1.04)" font-size="58.33" text-anchor="middle" fill="#262626" >15</text>
<text transform="translate(1525.87 1627.60) scale(1.0 1.04)" font-size="58.33" text-anchor="middle" fill="#262626" >20</text>
<text transform="translate(1843.13 1627.60) scale(1.0 1.04)" font-size="58.33" text-anchor="middle" fill="#262626" >25</text>
<text transform="translate(2160.40 1627.60) scale(1.0 1.04)" font-size="58.33" text-anchor="middle" fill="#262626" >30</text>
<text transform="scale(1 1.04)" fill="#262626" ><tspan x="151.50" y="91.44" font-size="58.33">10</tspan><tspan x="214.90" y="67.79" font-size="46.67">0</tspan></text>
<text transform="scale(1 1.04)" fill="#262626" ><tspan x="127.30" y="373.94" font-size="58.33">10</tspan><tspan x="191.50" y="350.29" font-size="46.67">−1</tspan></text>
<text transform="scale(1 1.04)" fill="#262626" ><tspan x="127.30" y="660.38" font-size="58.33">10</tspan><tspan x="191.50" y="637.98" font-size="46.67">−2</tspan></text>
<text transform="scale(1 1.04)" fill="#262626" ><tspan x="127.30" y="943.17" font-size="58.33">10</tspan><tspan x="191.50" y="920.77" font-size="46.67">−3</tspan></text>
<text transform="scale(1 1.04)" fill="#262626" ><tspan x="127.30" y="1229.62" font-size="58.33">10</tspan><tspan x="191.50" y="1207.21" font-size="46.67">−4</tspan></text>
<text transform="scale(1 1.025)" fill="#262626" ><tspan x="1038.40" y="1679.80" font-size="70.83">E</tspan><tspan x="1085.50" y="1715.32" font-size="56.67">b</tspan><tspan x="1122.00" y="1679.80" font-size="70.83">/</tspan><tspan x="1140.60" y="1679.80" font-size="70.83">N</tspan><tspan x="1191.80" y="1715.32" font-size="56.67">0</tspan><tspan x="1226.80" y="1679.80" font-size="70.83"> </tspan><tspan x="1246.50" y="1679.80" font-size="70.83">(</tspan><tspan x="1269.60" y="1679.80" font-size="70.83">d</tspan><tspan x="1308.30" y="1679.80" font-size="70.83">B</tspan><tspan x="1355.90" y="1679.80" font-size="70.83">)</tspan></text>
<text transform="translate(90,803.5) rotate(-90) scale(1 1.04)" font-size="70.83" text-anchor="middle" fill="#262626">BER</text>
</g>
</svg>
</body></html>
